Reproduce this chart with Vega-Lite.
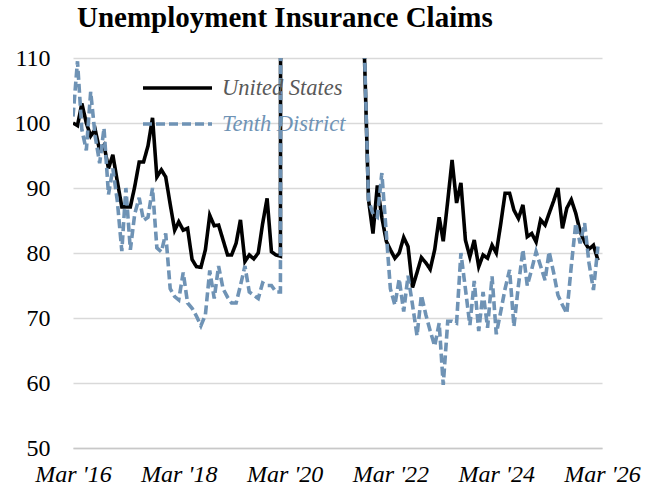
{
  "$schema": "https://vega.github.io/schema/vega-lite/v6.json",
  "width": 529,
  "height": 390,
  "padding": {"left": 14, "top": 4, "right": 5, "bottom": 5},
  "background": "white",
  "config": {"view": {"stroke": null}},
  "title": {"text": "Unemployment Insurance Claims", "anchor": "start", "frame": "group", "dx": 4, "font": "Liberation Serif", "fontSize": 29, "fontWeight": "bold", "color": "#000000", "offset": 13},
  "data": {"values": [
    {"d": "2016-03-01", "United States": 100.0, "Tenth District": 101.0},
    {"d": "2016-04-01", "United States": 99.6, "Tenth District": 109.5},
    {"d": "2016-05-01", "United States": 103.0, "Tenth District": 99.0},
    {"d": "2016-06-01", "United States": 100.0, "Tenth District": 95.8},
    {"d": "2016-07-01", "United States": 98.0, "Tenth District": 104.8},
    {"d": "2016-08-01", "United States": 99.0, "Tenth District": 98.0},
    {"d": "2016-09-01", "United States": 95.8, "Tenth District": 93.8},
    {"d": "2016-10-01", "United States": 96.6, "Tenth District": 99.2},
    {"d": "2016-11-01", "United States": 93.0, "Tenth District": 89.0},
    {"d": "2016-12-01", "United States": 95.1, "Tenth District": 93.0},
    {"d": "2017-01-01", "United States": 91.0, "Tenth District": 88.0},
    {"d": "2017-02-01", "United States": 87.1, "Tenth District": 80.3},
    {"d": "2017-03-01", "United States": 87.1, "Tenth District": 90.0},
    {"d": "2017-04-01", "United States": 87.1, "Tenth District": 80.5},
    {"d": "2017-05-01", "United States": 90.2, "Tenth District": 86.0},
    {"d": "2017-06-01", "United States": 94.0, "Tenth District": 88.5},
    {"d": "2017-07-01", "United States": 94.0, "Tenth District": 85.0},
    {"d": "2017-08-01", "United States": 96.5, "Tenth District": 85.5},
    {"d": "2017-09-01", "United States": 100.8, "Tenth District": 90.0},
    {"d": "2017-10-01", "United States": 91.7, "Tenth District": 80.8},
    {"d": "2017-11-01", "United States": 92.8, "Tenth District": 80.2},
    {"d": "2017-12-01", "United States": 91.7, "Tenth District": 83.0},
    {"d": "2018-01-01", "United States": 87.5, "Tenth District": 74.5},
    {"d": "2018-02-01", "United States": 83.5, "Tenth District": 73.3},
    {"d": "2018-03-01", "United States": 84.8, "Tenth District": 72.8},
    {"d": "2018-04-01", "United States": 83.5, "Tenth District": 77.0},
    {"d": "2018-05-01", "United States": 83.8, "Tenth District": 72.3},
    {"d": "2018-06-01", "United States": 79.0, "Tenth District": 71.5},
    {"d": "2018-07-01", "United States": 77.9, "Tenth District": 70.3},
    {"d": "2018-08-01", "United States": 77.8, "Tenth District": 68.8},
    {"d": "2018-09-01", "United States": 80.5, "Tenth District": 70.5},
    {"d": "2018-10-01", "United States": 85.8, "Tenth District": 77.3},
    {"d": "2018-11-01", "United States": 84.2, "Tenth District": 73.0},
    {"d": "2018-12-01", "United States": 84.3, "Tenth District": 78.0},
    {"d": "2019-01-01", "United States": 82.0, "Tenth District": 74.5},
    {"d": "2019-02-01", "United States": 79.7, "Tenth District": 73.2},
    {"d": "2019-03-01", "United States": 79.7, "Tenth District": 72.3},
    {"d": "2019-04-01", "United States": 81.5, "Tenth District": 72.3},
    {"d": "2019-05-01", "United States": 85.1, "Tenth District": 75.0},
    {"d": "2019-06-01", "United States": 78.7, "Tenth District": 78.0},
    {"d": "2019-07-01", "United States": 79.7, "Tenth District": 74.0},
    {"d": "2019-08-01", "United States": 79.1, "Tenth District": 73.5},
    {"d": "2019-09-01", "United States": 80.0, "Tenth District": 73.0},
    {"d": "2019-10-01", "United States": 84.5, "Tenth District": 75.4},
    {"d": "2019-11-01", "United States": 88.4, "Tenth District": 75.0},
    {"d": "2019-12-01", "United States": 80.2, "Tenth District": 75.0},
    {"d": "2020-01-01", "United States": 79.7, "Tenth District": 74.0},
    {"d": "2020-02-01", "United States": 79.5, "Tenth District": 74.0},
    {"d": "2020-03-01", "United States": 1000, "Tenth District": 950},
    {"d": "2020-04-01", "United States": 2000, "Tenth District": 2100},
    {"d": "2020-05-01", "United States": 1100, "Tenth District": 1200},
    {"d": "2020-06-01", "United States": 600, "Tenth District": 650},
    {"d": "2020-07-01", "United States": 480, "Tenth District": 520},
    {"d": "2020-08-01", "United States": 400, "Tenth District": 420},
    {"d": "2020-09-01", "United States": 350, "Tenth District": 360},
    {"d": "2020-10-01", "United States": 310, "Tenth District": 320},
    {"d": "2020-11-01", "United States": 300, "Tenth District": 300},
    {"d": "2020-12-01", "United States": 310, "Tenth District": 300},
    {"d": "2021-01-01", "United States": 330, "Tenth District": 320},
    {"d": "2021-02-01", "United States": 320, "Tenth District": 310},
    {"d": "2021-03-01", "United States": 290, "Tenth District": 280},
    {"d": "2021-04-01", "United States": 270, "Tenth District": 260},
    {"d": "2021-05-01", "United States": 250, "Tenth District": 240},
    {"d": "2021-06-01", "United States": 220, "Tenth District": 210},
    {"d": "2021-07-01", "United States": 170, "Tenth District": 160},
    {"d": "2021-08-01", "United States": 140, "Tenth District": 135},
    {"d": "2021-09-01", "United States": 112, "Tenth District": 113},
    {"d": "2021-10-01", "United States": 88.2, "Tenth District": 88.2},
    {"d": "2021-11-01", "United States": 83.0, "Tenth District": 86.0},
    {"d": "2021-12-01", "United States": 90.4, "Tenth District": 85.5},
    {"d": "2022-01-01", "United States": 85.5, "Tenth District": 92.3},
    {"d": "2022-02-01", "United States": 81.8, "Tenth District": 83.0},
    {"d": "2022-03-01", "United States": 80.5, "Tenth District": 74.5},
    {"d": "2022-04-01", "United States": 79.2, "Tenth District": 72.0},
    {"d": "2022-05-01", "United States": 80.0, "Tenth District": 76.0},
    {"d": "2022-06-01", "United States": 82.4, "Tenth District": 71.0},
    {"d": "2022-07-01", "United States": 81.0, "Tenth District": 76.5},
    {"d": "2022-08-01", "United States": 74.7, "Tenth District": 72.0},
    {"d": "2022-09-01", "United States": 77.0, "Tenth District": 67.3},
    {"d": "2022-10-01", "United States": 79.3, "Tenth District": 73.5},
    {"d": "2022-11-01", "United States": 78.5, "Tenth District": 70.5},
    {"d": "2022-12-01", "United States": 77.5, "Tenth District": 68.0},
    {"d": "2023-01-01", "United States": 80.5, "Tenth District": 65.7},
    {"d": "2023-02-01", "United States": 85.5, "Tenth District": 69.2},
    {"d": "2023-03-01", "United States": 81.8, "Tenth District": 59.7},
    {"d": "2023-04-01", "United States": 88.0, "Tenth District": 69.5},
    {"d": "2023-05-01", "United States": 94.3, "Tenth District": 69.5},
    {"d": "2023-06-01", "United States": 87.7, "Tenth District": 69.2},
    {"d": "2023-07-01", "United States": 90.8, "Tenth District": 80.0},
    {"d": "2023-08-01", "United States": 82.0, "Tenth District": 74.5},
    {"d": "2023-09-01", "United States": 79.4, "Tenth District": 68.9},
    {"d": "2023-10-01", "United States": 82.0, "Tenth District": 75.7},
    {"d": "2023-11-01", "United States": 77.9, "Tenth District": 68.0},
    {"d": "2023-12-01", "United States": 79.7, "Tenth District": 74.0},
    {"d": "2024-01-01", "United States": 79.2, "Tenth District": 68.5},
    {"d": "2024-02-01", "United States": 81.2, "Tenth District": 76.4},
    {"d": "2024-03-01", "United States": 80.0, "Tenth District": 67.5},
    {"d": "2024-04-01", "United States": 84.5, "Tenth District": 71.0},
    {"d": "2024-05-01", "United States": 89.2, "Tenth District": 74.5},
    {"d": "2024-06-01", "United States": 89.2, "Tenth District": 77.4},
    {"d": "2024-07-01", "United States": 86.6, "Tenth District": 68.7},
    {"d": "2024-08-01", "United States": 85.3, "Tenth District": 75.0},
    {"d": "2024-09-01", "United States": 87.4, "Tenth District": 80.5},
    {"d": "2024-10-01", "United States": 82.5, "Tenth District": 75.0},
    {"d": "2024-11-01", "United States": 83.0, "Tenth District": 77.5},
    {"d": "2024-12-01", "United States": 81.7, "Tenth District": 80.2},
    {"d": "2025-01-01", "United States": 85.1, "Tenth District": 78.0},
    {"d": "2025-02-01", "United States": 84.3, "Tenth District": 75.8},
    {"d": "2025-03-01", "United States": 86.1, "Tenth District": 80.2},
    {"d": "2025-04-01", "United States": 88.0, "Tenth District": 77.0},
    {"d": "2025-05-01", "United States": 90.0, "Tenth District": 73.5},
    {"d": "2025-06-01", "United States": 83.8, "Tenth District": 72.0},
    {"d": "2025-07-01", "United States": 86.9, "Tenth District": 70.7},
    {"d": "2025-08-01", "United States": 88.2, "Tenth District": 78.0},
    {"d": "2025-09-01", "United States": 86.1, "Tenth District": 84.6},
    {"d": "2025-10-01", "United States": 83.3, "Tenth District": 81.5},
    {"d": "2025-11-01", "United States": 81.7, "Tenth District": 84.6},
    {"d": "2025-12-01", "United States": 80.6, "Tenth District": 78.5},
    {"d": "2026-01-01", "United States": 81.2, "Tenth District": 74.3},
    {"d": "2026-02-01", "United States": 78.9, "Tenth District": 81.0}
  ]},
  "transform": [{"fold": ["United States", "Tenth District"], "as": ["series", "value"]}],
  "mark": {"type": "line", "clip": true, "strokeWidth": 3.6},
  "encoding": {
    "x": {
      "field": "d", "type": "temporal",
      "scale": {"type": "utc", "domain": [{"year": 2016, "month": 3, "date": 1, "utc": true}, {"year": 2026, "month": 3, "date": 1, "utc": true}]},
      "axis": {
        "values": [
          {"year": 2016, "month": 3, "date": 1, "utc": true},
          {"year": 2018, "month": 3, "date": 1, "utc": true},
          {"year": 2020, "month": 3, "date": 1, "utc": true},
          {"year": 2022, "month": 3, "date": 1, "utc": true},
          {"year": 2024, "month": 3, "date": 1, "utc": true},
          {"year": 2026, "month": 3, "date": 1, "utc": true}
        ],
        "labelExpr": "utcFormat(datum.value, \"%b '%y\")", "title": null, "grid": false, "ticks": false,
        "domain": true, "domainColor": "#c8c8c8", "domainWidth": 1.5,
        "labelFont": "Liberation Serif", "labelFontStyle": "italic", "labelFontSize": 24, "labelColor": "#000000",
        "labelPadding": 14, "labelFlush": false, "labelOverlap": false
      }
    },
    "y": {
      "field": "value", "type": "quantitative",
      "scale": {"domain": [50, 110], "nice": false, "zero": false},
      "axis": {
        "values": [50, 60, 70, 80, 90, 100, 110], "title": null, "domain": false, "ticks": false,
        "grid": true, "gridColor": "#d9d9d9", "gridWidth": 1.3,
        "labelFont": "Liberation Serif", "labelFontSize": 24, "labelColor": "#000000", "labelPadding": 23
      }
    },
    "color": {
      "field": "series", "type": "nominal",
      "scale": {"domain": ["United States", "Tenth District"], "range": ["#000000", "#6f93b5"]},
      "legend": {
        "orient": "none", "legendX": 68, "legendY": 19, "title": null, "symbolType": "stroke", "symbolSize": 4761,
        "symbolStrokeWidth": 3.6, "labelFont": "Liberation Serif", "labelFontStyle": "italic", "labelFontSize": 22.5,
        "labelColor": {"expr": "datum.label == 'Tenth District' ? '#6f93b5' : '#595959'"},
        "labelOffset": 8, "rowPadding": 13, "clipHeight": 22, "padding": 0
      }
    },
    "strokeDash": {
      "field": "series", "type": "nominal",
      "scale": {"domain": ["United States", "Tenth District"], "range": [[1, 0], [9, 4]]},
      "legend": {
        "orient": "none", "legendX": 68, "legendY": 19, "title": null, "symbolType": "stroke", "symbolSize": 4761,
        "symbolStrokeWidth": 3.6, "labelFont": "Liberation Serif", "labelFontStyle": "italic", "labelFontSize": 22.5,
        "labelColor": {"expr": "datum.label == 'Tenth District' ? '#6f93b5' : '#595959'"},
        "labelOffset": 8, "rowPadding": 13, "clipHeight": 22, "padding": 0
      }
    }
  }
}
